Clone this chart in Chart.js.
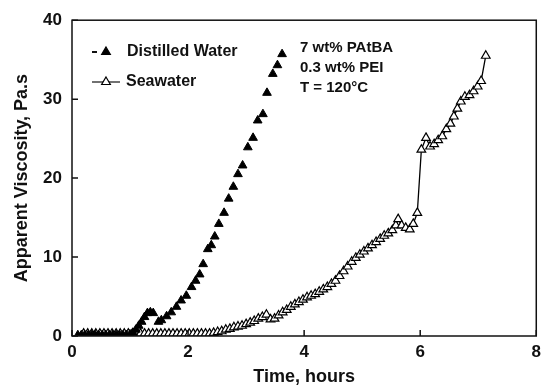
<!DOCTYPE html>
<html><head><meta charset="utf-8">
<script src="https://cdn.jsdelivr.net/npm/chart.js@4"></script>
<style>html,body{margin:0;padding:0;background:#fff;}#wrap{width:547px;height:386px;}</style>
</head><body><div id="wrap"><canvas id="c" width="547" height="386"></canvas></div>
<script>
// ---- data ----
const seriesNames = ["Distilled Water", "Seawater"];
const noteLines = ["7 wt% PAtBA", "0.3 wt% PEI", "T = 120\u00B0C"];
const xTicks = [0, 2, 4, 6, 8];
const yTicks = [0, 10, 20, 30, 40];
const xTitle = "Time, hours";
const yTitle = "Apparent Viscosity, Pa.s";

const tDistilled = [0.10,0.16,0.22,0.28,0.34,0.40,0.46,0.52,0.58,0.64,0.70,0.76,0.82,0.88,0.94,1.00,1.05,1.10,1.15,1.20,1.25,1.30,1.35,1.40,
  1.49,1.54,1.63,1.71,1.80,1.88,1.97,2.06,2.13,2.20,2.26,2.34,2.40,2.46,2.53,2.62,2.70,2.78,2.86,2.94,3.03,3.12,3.20,3.29,3.36,3.46,3.54,3.62];
const vDistilled = [0.1,0.1,0.1,0.1,0.1,0.1,0.1,0.1,0.1,0.1,0.1,0.1,0.1,0.1,0.1,0.2,0.4,0.8,1.3,1.8,2.4,2.9,3.0,2.9,
  1.8,2.0,2.5,3.0,3.7,4.5,5.1,6.2,7.0,7.8,9.1,11.0,11.5,12.6,14.2,15.6,17.4,18.9,20.5,21.6,23.9,25.1,27.3,28.1,30.8,33.2,34.3,35.7];

const tSea = [0.20,0.27,0.34,0.41,0.48,0.55,0.62,0.69,0.76,0.83,0.90,0.97,1.04,1.11,1.18,1.25,1.32,1.39,1.46,1.53,1.60,1.67,1.74,1.81,1.88,1.95,2.02,2.09,2.16,2.23,2.30,2.37,
  2.44,2.51,2.58,2.65,2.72,2.79,2.86,2.93,3.00,3.07,3.14,3.21,3.28,3.35,3.42,3.49,3.56,3.63,3.70,3.77,3.84,3.91,3.98,4.05,4.12,4.19,4.26,4.33,4.40,4.47,4.54,4.61,4.68,4.75,4.82,4.89,4.96,5.03,5.10,5.17,5.24,5.31,5.38,5.45,5.52,5.58,5.62,5.68,5.75,5.82,5.88,5.95,
  6.02,6.10,6.17,6.24,6.31,6.38,6.45,6.52,6.58,6.64,6.70,6.77,6.85,6.92,6.99,7.05,7.13];
const vSea = [0.3,0.3,0.3,0.3,0.3,0.3,0.3,0.3,0.3,0.3,0.3,0.3,0.3,0.3,0.3,0.3,0.3,0.3,0.3,0.3,0.3,0.3,0.3,0.3,0.3,0.3,0.3,0.3,0.3,0.3,0.3,0.3,
  0.4,0.5,0.6,0.8,0.9,1.1,1.2,1.3,1.5,1.7,1.9,2.2,2.4,2.7,2.1,2.2,2.6,3.0,3.3,3.7,4.0,4.3,4.6,4.9,5.1,5.3,5.6,5.9,6.2,6.6,7.0,7.6,8.2,8.8,9.4,9.9,10.3,10.7,11.1,11.5,11.9,12.3,12.7,13.0,13.4,14.0,14.8,14.0,13.7,13.5,14.2,15.6,
  23.6,25.1,24.0,24.3,24.8,25.3,26.2,26.9,27.8,28.8,29.7,30.3,30.5,31.0,31.6,32.3,35.5];

const FONT = "'Liberation Sans', Arial, sans-serif";

const boxAndTicks = {
  id: 'boxAndTicks',
  afterDraw(chart) {
    const {ctx, chartArea: a, scales: {x, y}} = chart;
    ctx.save();
    ctx.strokeStyle = '#111';
    ctx.lineWidth = 1.5;
    ctx.strokeRect(a.left, a.top, a.right - a.left, a.bottom - a.top);
    ctx.beginPath();
    xTicks.forEach(v => { const px = x.getPixelForValue(v); ctx.moveTo(px, a.bottom); ctx.lineTo(px, a.bottom - 6); });
    yTicks.forEach(v => { const py = y.getPixelForValue(v); ctx.moveTo(a.left, py); ctx.lineTo(a.left + 6, py); });
    ctx.stroke();
    // legend
    ctx.fillStyle = '#111';
    ctx.textBaseline = 'middle';
    ctx.textAlign = 'left';
    ctx.font = "bold 16px " + FONT;
    ctx.beginPath(); ctx.moveTo(92, 52); ctx.lineTo(97, 52); ctx.lineWidth = 2; ctx.stroke();
    drawTri(ctx, 106, 52, 5, '#000');
    ctx.fillText(seriesNames[0], 127, 52);
    ctx.beginPath(); ctx.moveTo(92, 82); ctx.lineTo(120, 82); ctx.lineWidth = 1.2; ctx.stroke();
    drawTri(ctx, 106, 82, 5, '#fff');
    ctx.fillText(seriesNames[1], 126, 82);
    ctx.font = "bold 15px " + FONT;
    noteLines.forEach((s, i) => ctx.fillText(s, 300, 48 + i * 20));
    ctx.restore();
  }
};
function drawTri(ctx, cx, cy, r, fill) {
  ctx.save();
  ctx.beginPath();
  ctx.moveTo(cx, cy - r);
  ctx.lineTo(cx + r * 0.87, cy + r * 0.5);
  ctx.lineTo(cx - r * 0.87, cy + r * 0.5);
  ctx.closePath();
  ctx.fillStyle = fill; ctx.fill();
  ctx.strokeStyle = '#000'; ctx.lineWidth = 1.2; ctx.stroke();
  ctx.restore();
}

new Chart(document.getElementById('c'), {
  type: 'scatter',
  data: {
    datasets: [
      {
        label: seriesNames[1],
        data: tSea.map((t, i) => ({x: t, y: vSea[i]})),
        showLine: true,
        borderColor: '#000', borderWidth: 1.3,
        pointStyle: 'triangle', pointRadius: 5,
        pointBackgroundColor: '#fff', pointBorderColor: '#000', pointBorderWidth: 1.2,
        order: 2
      },
      {
        label: seriesNames[0],
        data: tDistilled.map((t, i) => ({x: t, y: vDistilled[i]})),
        showLine: false,
        pointStyle: 'triangle', pointRadius: 5,
        pointBackgroundColor: '#000', pointBorderColor: '#000', pointBorderWidth: 1,
        order: 1
      }
    ]
  },
  options: {
    responsive: false, animation: false, devicePixelRatio: 1,
    layout: {padding: {top: 16, right: 9, left: 0, bottom: 0}},
    plugins: {legend: {display: false}, tooltip: {enabled: false}},
    scales: {
      x: {
        type: 'linear', min: 0, max: 8,
        afterBuildTicks: s => { s.ticks = xTicks.map(v => ({value: v})); },
        afterFit: s => { s.height = 50; },
        grid: {display: false, drawTicks: false},
        border: {display: false},
        ticks: {color: '#111', font: {family: FONT, size: 17, weight: 'bold'}, padding: 6, maxRotation: 0},
        title: {display: true, text: xTitle, color: '#111', font: {family: FONT, size: 18, weight: 'bold', lineHeight: 1}, padding: 0}
      },
      y: {
        type: 'linear', min: 0, max: 40,
        afterBuildTicks: s => { s.ticks = yTicks.map(v => ({value: v})); },
        afterFit: s => { s.width = 72; },
        grid: {display: false, drawTicks: false},
        border: {display: false},
        ticks: {color: '#111', font: {family: FONT, size: 17, weight: 'bold'}, padding: 10},
        title: {display: true, text: yTitle, color: '#111', font: {family: FONT, size: 18, weight: 'bold', lineHeight: 1}, padding: {top: 13, bottom: 0}}
      }
    }
  },
  plugins: [boxAndTicks]
});
</script></body></html>
